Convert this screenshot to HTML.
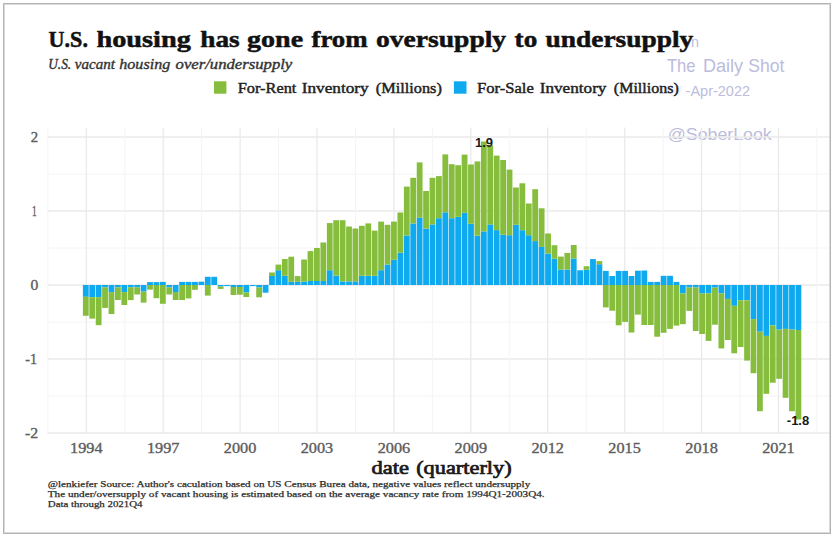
<!DOCTYPE html>
<html><head><meta charset="utf-8">
<style>
html,body{margin:0;padding:0;background:#fff;}
body{width:837px;height:537px;overflow:hidden;}
svg{display:block;}
text{font-family:"Liberation Serif",serif;}
.ax{font-size:14.6px;fill:#5c5c5c;stroke:#5c5c5c;stroke-width:0.35px;}
.wm{font-family:"Liberation Sans",sans-serif;fill:#bcbcdc;}
.lab{font-family:"Liberation Sans",sans-serif;font-weight:bold;font-size:13px;fill:#1a1a1a;}
.cap{font-size:9.2px;fill:#2a2a2a;stroke:#2a2a2a;stroke-width:0.25px;}
</style></head>
<body>
<svg width="837" height="537" viewBox="0 0 837 537">
<rect x="0" y="0" width="837" height="537" fill="#fff"/>
<!-- watermark -->
<text class="wm" x="691" y="46.9" font-size="14.3">n</text>
<text x="666.90" y="71.7" style="font-family:'Liberation Sans',sans-serif;font-size:18px;" textLength="28.77" lengthAdjust="spacingAndGlyphs" fill="#bcbcdc">The</text>
<text x="703.00" y="71.7" style="font-family:'Liberation Sans',sans-serif;font-size:18px;" textLength="40.16" lengthAdjust="spacingAndGlyphs" fill="#bcbcdc">Daily</text>
<text x="748.30" y="71.7" style="font-family:'Liberation Sans',sans-serif;font-size:18px;" textLength="36.14" lengthAdjust="spacingAndGlyphs" fill="#bcbcdc">Shot</text>
<text x="685.60" y="96.4" style="font-family:'Liberation Sans',sans-serif;font-size:15.2px;" textLength="64.43" lengthAdjust="spacingAndGlyphs" fill="#bcbcdc">-Apr-2022</text>
<text x="668.20" y="96.4" style="font-family:'Liberation Sans',sans-serif;font-size:15.2px;" textLength="15.33" lengthAdjust="spacingAndGlyphs" fill="#bcbcdc" fill-opacity="0.25">07</text>
<text x="667.80" y="140.3" style="font-family:'Liberation Sans',sans-serif;font-size:17.4px;" textLength="103.95" lengthAdjust="spacingAndGlyphs" fill="#bcbcdc">@SoberLook</text>
<!-- grid -->
<line x1="47.3" x2="829.0" y1="174.00" y2="174.00" stroke="#f4f4f4" stroke-width="1"/>
<line x1="47.3" x2="829.0" y1="248.00" y2="248.00" stroke="#f4f4f4" stroke-width="1"/>
<line x1="47.3" x2="829.0" y1="322.00" y2="322.00" stroke="#f4f4f4" stroke-width="1"/>
<line x1="47.3" x2="829.0" y1="396.00" y2="396.00" stroke="#f4f4f4" stroke-width="1"/>
<line x1="47.3" x2="829.0" y1="137.00" y2="137.00" stroke="#eaeaea" stroke-width="1.3"/>
<line x1="47.3" x2="829.0" y1="211.00" y2="211.00" stroke="#eaeaea" stroke-width="1.3"/>
<line x1="47.3" x2="829.0" y1="285.00" y2="285.00" stroke="#eaeaea" stroke-width="1.3"/>
<line x1="47.3" x2="829.0" y1="359.00" y2="359.00" stroke="#eaeaea" stroke-width="1.3"/>
<line x1="47.3" x2="829.0" y1="433.00" y2="433.00" stroke="#eaeaea" stroke-width="1.3"/>
<line x1="47.85" x2="47.85" y1="127.5" y2="433.5" stroke="#f4f4f4" stroke-width="1"/>
<line x1="124.75" x2="124.75" y1="127.5" y2="433.5" stroke="#f4f4f4" stroke-width="1"/>
<line x1="201.66" x2="201.66" y1="127.5" y2="433.5" stroke="#f4f4f4" stroke-width="1"/>
<line x1="278.56" x2="278.56" y1="127.5" y2="433.5" stroke="#f4f4f4" stroke-width="1"/>
<line x1="355.47" x2="355.47" y1="127.5" y2="433.5" stroke="#f4f4f4" stroke-width="1"/>
<line x1="432.37" x2="432.37" y1="127.5" y2="433.5" stroke="#f4f4f4" stroke-width="1"/>
<line x1="509.28" x2="509.28" y1="127.5" y2="433.5" stroke="#f4f4f4" stroke-width="1"/>
<line x1="586.18" x2="586.18" y1="127.5" y2="433.5" stroke="#f4f4f4" stroke-width="1"/>
<line x1="663.09" x2="663.09" y1="127.5" y2="433.5" stroke="#f4f4f4" stroke-width="1"/>
<line x1="739.99" x2="739.99" y1="127.5" y2="433.5" stroke="#f4f4f4" stroke-width="1"/>
<line x1="816.90" x2="816.90" y1="127.5" y2="433.5" stroke="#f4f4f4" stroke-width="1"/>
<line x1="86.30" x2="86.30" y1="127.5" y2="433.5" stroke="#eaeaea" stroke-width="1.3"/>
<line x1="163.20" x2="163.20" y1="127.5" y2="433.5" stroke="#eaeaea" stroke-width="1.3"/>
<line x1="240.11" x2="240.11" y1="127.5" y2="433.5" stroke="#eaeaea" stroke-width="1.3"/>
<line x1="317.01" x2="317.01" y1="127.5" y2="433.5" stroke="#eaeaea" stroke-width="1.3"/>
<line x1="393.92" x2="393.92" y1="127.5" y2="433.5" stroke="#eaeaea" stroke-width="1.3"/>
<line x1="470.83" x2="470.83" y1="127.5" y2="433.5" stroke="#eaeaea" stroke-width="1.3"/>
<line x1="547.73" x2="547.73" y1="127.5" y2="433.5" stroke="#eaeaea" stroke-width="1.3"/>
<line x1="624.63" x2="624.63" y1="127.5" y2="433.5" stroke="#eaeaea" stroke-width="1.3"/>
<line x1="701.54" x2="701.54" y1="127.5" y2="433.5" stroke="#eaeaea" stroke-width="1.3"/>
<line x1="778.45" x2="778.45" y1="127.5" y2="433.5" stroke="#eaeaea" stroke-width="1.3"/>
<!-- bars -->
<rect x="82.90" y="285.00" width="5.8" height="11.80" fill="#0fa9ef"/>
<rect x="82.90" y="296.80" width="5.8" height="19.00" fill="#86bd3c"/>
<rect x="89.32" y="285.00" width="5.8" height="12.20" fill="#0fa9ef"/>
<rect x="89.32" y="297.20" width="5.8" height="21.40" fill="#86bd3c"/>
<rect x="95.74" y="285.00" width="5.8" height="12.20" fill="#0fa9ef"/>
<rect x="95.74" y="297.20" width="5.8" height="28.00" fill="#86bd3c"/>
<rect x="102.16" y="285.00" width="5.8" height="2.40" fill="#0fa9ef"/>
<rect x="102.16" y="287.40" width="5.8" height="20.50" fill="#86bd3c"/>
<rect x="108.58" y="285.00" width="5.8" height="7.10" fill="#0fa9ef"/>
<rect x="108.58" y="292.10" width="5.8" height="21.90" fill="#86bd3c"/>
<rect x="115.00" y="285.00" width="5.8" height="2.40" fill="#0fa9ef"/>
<rect x="115.00" y="287.40" width="5.8" height="12.60" fill="#86bd3c"/>
<rect x="121.42" y="285.00" width="5.8" height="7.10" fill="#0fa9ef"/>
<rect x="121.42" y="292.10" width="5.8" height="12.90" fill="#86bd3c"/>
<rect x="127.84" y="285.00" width="5.8" height="2.30" fill="#0fa9ef"/>
<rect x="127.84" y="287.30" width="5.8" height="12.80" fill="#86bd3c"/>
<rect x="134.26" y="285.00" width="5.8" height="2.30" fill="#0fa9ef"/>
<rect x="134.26" y="287.30" width="5.8" height="7.20" fill="#86bd3c"/>
<rect x="140.68" y="285.00" width="5.8" height="6.60" fill="#0fa9ef"/>
<rect x="140.68" y="291.60" width="5.8" height="11.00" fill="#86bd3c"/>
<rect x="147.10" y="282.10" width="5.8" height="2.90" fill="#0fa9ef"/>
<rect x="147.10" y="285.00" width="5.8" height="4.60" fill="#86bd3c"/>
<rect x="153.52" y="282.10" width="5.8" height="2.90" fill="#0fa9ef"/>
<rect x="153.52" y="285.00" width="5.8" height="13.20" fill="#86bd3c"/>
<rect x="159.94" y="281.90" width="5.8" height="3.10" fill="#0fa9ef"/>
<rect x="159.94" y="285.00" width="5.8" height="18.80" fill="#86bd3c"/>
<rect x="166.36" y="285.00" width="5.8" height="2.50" fill="#0fa9ef"/>
<rect x="166.36" y="287.50" width="5.8" height="7.00" fill="#86bd3c"/>
<rect x="172.78" y="285.00" width="5.8" height="7.00" fill="#0fa9ef"/>
<rect x="172.78" y="292.00" width="5.8" height="8.00" fill="#86bd3c"/>
<rect x="179.20" y="281.90" width="5.8" height="3.10" fill="#0fa9ef"/>
<rect x="179.20" y="285.00" width="5.8" height="15.00" fill="#86bd3c"/>
<rect x="185.62" y="281.90" width="5.8" height="3.10" fill="#0fa9ef"/>
<rect x="185.62" y="285.00" width="5.8" height="13.40" fill="#86bd3c"/>
<rect x="192.04" y="281.90" width="5.8" height="3.10" fill="#0fa9ef"/>
<rect x="192.04" y="285.00" width="5.8" height="4.80" fill="#86bd3c"/>
<rect x="198.46" y="281.70" width="5.8" height="3.30" fill="#0fa9ef"/>
<rect x="204.88" y="276.80" width="5.8" height="8.20" fill="#0fa9ef"/>
<rect x="204.88" y="285.00" width="5.8" height="10.60" fill="#86bd3c"/>
<rect x="211.30" y="276.80" width="5.8" height="8.20" fill="#0fa9ef"/>
<rect x="217.72" y="285.00" width="5.8" height="1.50" fill="#0fa9ef"/>
<rect x="217.72" y="286.50" width="5.8" height="2.40" fill="#86bd3c"/>
<rect x="224.14" y="285.00" width="5.8" height="1.10" fill="#0fa9ef"/>
<rect x="230.56" y="285.00" width="5.8" height="2.00" fill="#0fa9ef"/>
<rect x="230.56" y="287.00" width="5.8" height="8.00" fill="#86bd3c"/>
<rect x="236.98" y="285.00" width="5.8" height="2.00" fill="#0fa9ef"/>
<rect x="236.98" y="287.00" width="5.8" height="7.70" fill="#86bd3c"/>
<rect x="243.40" y="285.00" width="5.8" height="7.50" fill="#0fa9ef"/>
<rect x="243.40" y="292.50" width="5.8" height="4.50" fill="#86bd3c"/>
<rect x="249.82" y="285.00" width="5.8" height="1.10" fill="#0fa9ef"/>
<rect x="256.24" y="285.00" width="5.8" height="2.50" fill="#0fa9ef"/>
<rect x="256.24" y="287.50" width="5.8" height="9.80" fill="#86bd3c"/>
<rect x="262.66" y="285.00" width="5.8" height="7.70" fill="#0fa9ef"/>
<rect x="269.08" y="276.00" width="5.8" height="9.00" fill="#0fa9ef"/>
<rect x="269.08" y="272.50" width="5.8" height="3.50" fill="#86bd3c"/>
<rect x="275.50" y="270.20" width="5.8" height="14.80" fill="#0fa9ef"/>
<rect x="275.50" y="264.60" width="5.8" height="5.60" fill="#86bd3c"/>
<rect x="281.92" y="275.80" width="5.8" height="9.20" fill="#0fa9ef"/>
<rect x="281.92" y="259.00" width="5.8" height="16.80" fill="#86bd3c"/>
<rect x="288.34" y="281.80" width="5.8" height="3.20" fill="#0fa9ef"/>
<rect x="288.34" y="256.70" width="5.8" height="25.10" fill="#86bd3c"/>
<rect x="294.76" y="281.80" width="5.8" height="3.20" fill="#0fa9ef"/>
<rect x="294.76" y="276.10" width="5.8" height="5.70" fill="#86bd3c"/>
<rect x="301.18" y="281.60" width="5.8" height="3.40" fill="#0fa9ef"/>
<rect x="301.18" y="259.50" width="5.8" height="22.10" fill="#86bd3c"/>
<rect x="307.60" y="281.00" width="5.8" height="4.00" fill="#0fa9ef"/>
<rect x="307.60" y="251.10" width="5.8" height="29.90" fill="#86bd3c"/>
<rect x="314.02" y="281.00" width="5.8" height="4.00" fill="#0fa9ef"/>
<rect x="314.02" y="248.00" width="5.8" height="33.00" fill="#86bd3c"/>
<rect x="320.44" y="281.00" width="5.8" height="4.00" fill="#0fa9ef"/>
<rect x="320.44" y="242.50" width="5.8" height="38.50" fill="#86bd3c"/>
<rect x="326.86" y="270.20" width="5.8" height="14.80" fill="#0fa9ef"/>
<rect x="326.86" y="223.10" width="5.8" height="47.10" fill="#86bd3c"/>
<rect x="333.28" y="275.60" width="5.8" height="9.40" fill="#0fa9ef"/>
<rect x="333.28" y="220.20" width="5.8" height="55.40" fill="#86bd3c"/>
<rect x="339.70" y="281.40" width="5.8" height="3.60" fill="#0fa9ef"/>
<rect x="339.70" y="220.20" width="5.8" height="61.20" fill="#86bd3c"/>
<rect x="346.12" y="281.40" width="5.8" height="3.60" fill="#0fa9ef"/>
<rect x="346.12" y="226.50" width="5.8" height="54.90" fill="#86bd3c"/>
<rect x="352.54" y="281.40" width="5.8" height="3.60" fill="#0fa9ef"/>
<rect x="352.54" y="228.50" width="5.8" height="52.90" fill="#86bd3c"/>
<rect x="358.96" y="275.80" width="5.8" height="9.20" fill="#0fa9ef"/>
<rect x="358.96" y="225.80" width="5.8" height="50.00" fill="#86bd3c"/>
<rect x="365.38" y="275.80" width="5.8" height="9.20" fill="#0fa9ef"/>
<rect x="365.38" y="223.40" width="5.8" height="52.40" fill="#86bd3c"/>
<rect x="371.80" y="275.80" width="5.8" height="9.20" fill="#0fa9ef"/>
<rect x="371.80" y="230.60" width="5.8" height="45.20" fill="#86bd3c"/>
<rect x="378.22" y="270.20" width="5.8" height="14.80" fill="#0fa9ef"/>
<rect x="378.22" y="221.60" width="5.8" height="48.60" fill="#86bd3c"/>
<rect x="384.64" y="264.60" width="5.8" height="20.40" fill="#0fa9ef"/>
<rect x="384.64" y="224.80" width="5.8" height="39.80" fill="#86bd3c"/>
<rect x="391.06" y="259.70" width="5.8" height="25.30" fill="#0fa9ef"/>
<rect x="391.06" y="221.60" width="5.8" height="38.10" fill="#86bd3c"/>
<rect x="397.48" y="252.70" width="5.8" height="32.30" fill="#0fa9ef"/>
<rect x="397.48" y="212.50" width="5.8" height="40.20" fill="#86bd3c"/>
<rect x="403.90" y="235.50" width="5.8" height="49.50" fill="#0fa9ef"/>
<rect x="403.90" y="186.60" width="5.8" height="48.90" fill="#86bd3c"/>
<rect x="410.32" y="223.50" width="5.8" height="61.50" fill="#0fa9ef"/>
<rect x="410.32" y="177.80" width="5.8" height="45.70" fill="#86bd3c"/>
<rect x="416.74" y="217.80" width="5.8" height="67.20" fill="#0fa9ef"/>
<rect x="416.74" y="162.40" width="5.8" height="55.40" fill="#86bd3c"/>
<rect x="423.16" y="228.60" width="5.8" height="56.40" fill="#0fa9ef"/>
<rect x="423.16" y="191.00" width="5.8" height="37.60" fill="#86bd3c"/>
<rect x="429.58" y="224.40" width="5.8" height="60.60" fill="#0fa9ef"/>
<rect x="429.58" y="177.80" width="5.8" height="46.60" fill="#86bd3c"/>
<rect x="436.00" y="218.20" width="5.8" height="66.80" fill="#0fa9ef"/>
<rect x="436.00" y="176.10" width="5.8" height="42.10" fill="#86bd3c"/>
<rect x="442.42" y="212.30" width="5.8" height="72.70" fill="#0fa9ef"/>
<rect x="442.42" y="154.40" width="5.8" height="57.90" fill="#86bd3c"/>
<rect x="448.84" y="218.20" width="5.8" height="66.80" fill="#0fa9ef"/>
<rect x="448.84" y="164.20" width="5.8" height="54.00" fill="#86bd3c"/>
<rect x="455.26" y="216.80" width="5.8" height="68.20" fill="#0fa9ef"/>
<rect x="455.26" y="165.20" width="5.8" height="51.60" fill="#86bd3c"/>
<rect x="461.68" y="212.80" width="5.8" height="72.20" fill="#0fa9ef"/>
<rect x="461.68" y="154.60" width="5.8" height="58.20" fill="#86bd3c"/>
<rect x="468.10" y="223.70" width="5.8" height="61.30" fill="#0fa9ef"/>
<rect x="468.10" y="164.50" width="5.8" height="59.20" fill="#86bd3c"/>
<rect x="474.52" y="235.60" width="5.8" height="49.40" fill="#0fa9ef"/>
<rect x="474.52" y="161.40" width="5.8" height="74.20" fill="#86bd3c"/>
<rect x="480.94" y="231.40" width="5.8" height="53.60" fill="#0fa9ef"/>
<rect x="480.94" y="141.50" width="5.8" height="89.90" fill="#86bd3c"/>
<rect x="487.36" y="224.40" width="5.8" height="60.60" fill="#0fa9ef"/>
<rect x="487.36" y="145.50" width="5.8" height="78.90" fill="#86bd3c"/>
<rect x="493.78" y="230.10" width="5.8" height="54.90" fill="#0fa9ef"/>
<rect x="493.78" y="155.60" width="5.8" height="74.50" fill="#86bd3c"/>
<rect x="500.20" y="234.70" width="5.8" height="50.30" fill="#0fa9ef"/>
<rect x="500.20" y="160.00" width="5.8" height="74.70" fill="#86bd3c"/>
<rect x="506.62" y="235.20" width="5.8" height="49.80" fill="#0fa9ef"/>
<rect x="506.62" y="169.60" width="5.8" height="65.60" fill="#86bd3c"/>
<rect x="513.04" y="224.80" width="5.8" height="60.20" fill="#0fa9ef"/>
<rect x="513.04" y="187.50" width="5.8" height="37.30" fill="#86bd3c"/>
<rect x="519.46" y="230.20" width="5.8" height="54.80" fill="#0fa9ef"/>
<rect x="519.46" y="183.30" width="5.8" height="46.90" fill="#86bd3c"/>
<rect x="525.88" y="235.20" width="5.8" height="49.80" fill="#0fa9ef"/>
<rect x="525.88" y="203.50" width="5.8" height="31.70" fill="#86bd3c"/>
<rect x="532.30" y="241.10" width="5.8" height="43.90" fill="#0fa9ef"/>
<rect x="532.30" y="189.20" width="5.8" height="51.90" fill="#86bd3c"/>
<rect x="538.72" y="246.90" width="5.8" height="38.10" fill="#0fa9ef"/>
<rect x="538.72" y="208.30" width="5.8" height="38.60" fill="#86bd3c"/>
<rect x="545.14" y="253.60" width="5.8" height="31.40" fill="#0fa9ef"/>
<rect x="545.14" y="233.50" width="5.8" height="20.10" fill="#86bd3c"/>
<rect x="551.56" y="258.70" width="5.8" height="26.30" fill="#0fa9ef"/>
<rect x="551.56" y="245.20" width="5.8" height="13.50" fill="#86bd3c"/>
<rect x="557.98" y="269.50" width="5.8" height="15.50" fill="#0fa9ef"/>
<rect x="557.98" y="256.60" width="5.8" height="12.90" fill="#86bd3c"/>
<rect x="564.40" y="269.60" width="5.8" height="15.40" fill="#0fa9ef"/>
<rect x="564.40" y="252.90" width="5.8" height="16.70" fill="#86bd3c"/>
<rect x="570.82" y="258.50" width="5.8" height="26.50" fill="#0fa9ef"/>
<rect x="570.82" y="245.00" width="5.8" height="13.50" fill="#86bd3c"/>
<rect x="577.24" y="270.30" width="5.8" height="14.70" fill="#0fa9ef"/>
<rect x="583.66" y="269.80" width="5.8" height="15.20" fill="#0fa9ef"/>
<rect x="583.66" y="266.20" width="5.8" height="3.60" fill="#86bd3c"/>
<rect x="590.08" y="259.10" width="5.8" height="25.90" fill="#0fa9ef"/>
<rect x="596.50" y="264.20" width="5.8" height="20.80" fill="#0fa9ef"/>
<rect x="596.50" y="261.10" width="5.8" height="3.10" fill="#86bd3c"/>
<rect x="602.92" y="270.90" width="5.8" height="14.10" fill="#0fa9ef"/>
<rect x="602.92" y="285.00" width="5.8" height="22.40" fill="#86bd3c"/>
<rect x="609.34" y="276.00" width="5.8" height="9.00" fill="#0fa9ef"/>
<rect x="609.34" y="285.00" width="5.8" height="25.70" fill="#86bd3c"/>
<rect x="615.76" y="270.90" width="5.8" height="14.10" fill="#0fa9ef"/>
<rect x="615.76" y="285.00" width="5.8" height="40.30" fill="#86bd3c"/>
<rect x="622.18" y="270.90" width="5.8" height="14.10" fill="#0fa9ef"/>
<rect x="622.18" y="285.00" width="5.8" height="36.90" fill="#86bd3c"/>
<rect x="628.60" y="276.00" width="5.8" height="9.00" fill="#0fa9ef"/>
<rect x="628.60" y="285.00" width="5.8" height="47.50" fill="#86bd3c"/>
<rect x="635.02" y="270.70" width="5.8" height="14.30" fill="#0fa9ef"/>
<rect x="635.02" y="285.00" width="5.8" height="29.60" fill="#86bd3c"/>
<rect x="641.44" y="270.50" width="5.8" height="14.50" fill="#0fa9ef"/>
<rect x="641.44" y="285.00" width="5.8" height="40.00" fill="#86bd3c"/>
<rect x="647.86" y="281.90" width="5.8" height="3.10" fill="#0fa9ef"/>
<rect x="647.86" y="285.00" width="5.8" height="40.00" fill="#86bd3c"/>
<rect x="654.28" y="281.90" width="5.8" height="3.10" fill="#0fa9ef"/>
<rect x="654.28" y="285.00" width="5.8" height="51.70" fill="#86bd3c"/>
<rect x="660.70" y="275.80" width="5.8" height="9.20" fill="#0fa9ef"/>
<rect x="660.70" y="285.00" width="5.8" height="47.80" fill="#86bd3c"/>
<rect x="667.12" y="275.80" width="5.8" height="9.20" fill="#0fa9ef"/>
<rect x="667.12" y="285.00" width="5.8" height="43.90" fill="#86bd3c"/>
<rect x="673.54" y="281.90" width="5.8" height="3.10" fill="#0fa9ef"/>
<rect x="673.54" y="285.00" width="5.8" height="40.60" fill="#86bd3c"/>
<rect x="679.96" y="285.00" width="5.8" height="8.50" fill="#0fa9ef"/>
<rect x="679.96" y="293.50" width="5.8" height="30.70" fill="#86bd3c"/>
<rect x="686.38" y="285.00" width="5.8" height="2.50" fill="#0fa9ef"/>
<rect x="686.38" y="287.50" width="5.8" height="23.40" fill="#86bd3c"/>
<rect x="692.80" y="285.00" width="5.8" height="2.40" fill="#0fa9ef"/>
<rect x="692.80" y="287.40" width="5.8" height="43.60" fill="#86bd3c"/>
<rect x="699.22" y="285.00" width="5.8" height="8.50" fill="#0fa9ef"/>
<rect x="699.22" y="293.50" width="5.8" height="40.50" fill="#86bd3c"/>
<rect x="705.64" y="285.00" width="5.8" height="8.30" fill="#0fa9ef"/>
<rect x="705.64" y="293.30" width="5.8" height="47.60" fill="#86bd3c"/>
<rect x="712.06" y="285.00" width="5.8" height="2.60" fill="#0fa9ef"/>
<rect x="712.06" y="287.60" width="5.8" height="37.10" fill="#86bd3c"/>
<rect x="718.48" y="285.00" width="5.8" height="8.30" fill="#0fa9ef"/>
<rect x="718.48" y="293.30" width="5.8" height="55.10" fill="#86bd3c"/>
<rect x="724.90" y="285.00" width="5.8" height="13.90" fill="#0fa9ef"/>
<rect x="724.90" y="298.90" width="5.8" height="41.10" fill="#86bd3c"/>
<rect x="731.32" y="285.00" width="5.8" height="20.80" fill="#0fa9ef"/>
<rect x="731.32" y="305.80" width="5.8" height="47.50" fill="#86bd3c"/>
<rect x="737.74" y="285.00" width="5.8" height="15.30" fill="#0fa9ef"/>
<rect x="737.74" y="300.30" width="5.8" height="46.70" fill="#86bd3c"/>
<rect x="744.16" y="285.00" width="5.8" height="15.30" fill="#0fa9ef"/>
<rect x="744.16" y="300.30" width="5.8" height="60.30" fill="#86bd3c"/>
<rect x="750.58" y="285.00" width="5.8" height="34.10" fill="#0fa9ef"/>
<rect x="750.58" y="319.10" width="5.8" height="54.10" fill="#86bd3c"/>
<rect x="757.00" y="285.00" width="5.8" height="46.70" fill="#0fa9ef"/>
<rect x="757.00" y="331.70" width="5.8" height="79.50" fill="#86bd3c"/>
<rect x="763.42" y="285.00" width="5.8" height="50.90" fill="#0fa9ef"/>
<rect x="763.42" y="335.90" width="5.8" height="57.90" fill="#86bd3c"/>
<rect x="769.84" y="285.00" width="5.8" height="40.40" fill="#0fa9ef"/>
<rect x="769.84" y="325.40" width="5.8" height="57.30" fill="#86bd3c"/>
<rect x="776.26" y="285.00" width="5.8" height="44.60" fill="#0fa9ef"/>
<rect x="776.26" y="329.60" width="5.8" height="49.20" fill="#86bd3c"/>
<rect x="782.68" y="285.00" width="5.8" height="43.90" fill="#0fa9ef"/>
<rect x="782.68" y="328.90" width="5.8" height="68.90" fill="#86bd3c"/>
<rect x="789.10" y="285.00" width="5.8" height="44.60" fill="#0fa9ef"/>
<rect x="789.10" y="329.60" width="5.8" height="81.60" fill="#86bd3c"/>
<rect x="795.52" y="285.00" width="5.8" height="45.00" fill="#0fa9ef"/>
<rect x="795.52" y="330.00" width="5.8" height="89.50" fill="#86bd3c"/>
<!-- title -->
<text x="48.60" y="46.6" style="font-family:'Liberation Serif',serif;font-size:23.6px;font-weight:bold;" textLength="39.36" lengthAdjust="spacingAndGlyphs" fill="#111" stroke="#111" stroke-width="0.5">U.S.</text>
<text x="96.40" y="46.6" style="font-family:'Liberation Serif',serif;font-size:23.6px;font-weight:bold;" textLength="94.41" lengthAdjust="spacingAndGlyphs" fill="#111" stroke="#111" stroke-width="0.5">housing</text>
<text x="200.30" y="46.6" style="font-family:'Liberation Serif',serif;font-size:23.6px;font-weight:bold;" textLength="39.41" lengthAdjust="spacingAndGlyphs" fill="#111" stroke="#111" stroke-width="0.5">has</text>
<text x="247.00" y="46.6" style="font-family:'Liberation Serif',serif;font-size:23.6px;font-weight:bold;" textLength="56.10" lengthAdjust="spacingAndGlyphs" fill="#111" stroke="#111" stroke-width="0.5">gone</text>
<text x="311.50" y="46.6" style="font-family:'Liberation Serif',serif;font-size:23.6px;font-weight:bold;" textLength="56.15" lengthAdjust="spacingAndGlyphs" fill="#111" stroke="#111" stroke-width="0.5">from</text>
<text x="376.00" y="46.6" style="font-family:'Liberation Serif',serif;font-size:23.6px;font-weight:bold;" textLength="130.15" lengthAdjust="spacingAndGlyphs" fill="#111" stroke="#111" stroke-width="0.5">oversupply</text>
<text x="514.60" y="46.6" style="font-family:'Liberation Serif',serif;font-size:23.6px;font-weight:bold;" textLength="22.65" lengthAdjust="spacingAndGlyphs" fill="#111" stroke="#111" stroke-width="0.5">to</text>
<text x="545.60" y="46.6" style="font-family:'Liberation Serif',serif;font-size:23.6px;font-weight:bold;" textLength="147.64" lengthAdjust="spacingAndGlyphs" fill="#111" stroke="#111" stroke-width="0.5">undersupply</text>
<text x="48.30" y="68.9" style="font-family:'Liberation Serif',serif;font-size:15.2px;font-style:italic;" textLength="22.83" lengthAdjust="spacingAndGlyphs" fill="#333" stroke="#333" stroke-width="0.4">U.S.</text>
<text x="74.80" y="68.9" style="font-family:'Liberation Serif',serif;font-size:15.2px;font-style:italic;" textLength="40.13" lengthAdjust="spacingAndGlyphs" fill="#333" stroke="#333" stroke-width="0.4">vacant</text>
<text x="119.30" y="68.9" style="font-family:'Liberation Serif',serif;font-size:15.2px;font-style:italic;" textLength="50.93" lengthAdjust="spacingAndGlyphs" fill="#333" stroke="#333" stroke-width="0.4">housing</text>
<text x="175.60" y="68.9" style="font-family:'Liberation Serif',serif;font-size:15.2px;font-style:italic;" textLength="116.67" lengthAdjust="spacingAndGlyphs" fill="#333" stroke="#333" stroke-width="0.4">over/undersupply</text>
<!-- legend -->
<rect x="214" y="81.3" width="12.4" height="12.4" fill="#86bd3c"/>
<text x="237.70" y="92.9" style="font-family:'Liberation Serif',serif;font-size:15px;" textLength="58.72" lengthAdjust="spacingAndGlyphs" fill="#222" stroke="#222" stroke-width="0.45">For-Rent</text>
<text x="301.70" y="92.9" style="font-family:'Liberation Serif',serif;font-size:15px;" textLength="67.06" lengthAdjust="spacingAndGlyphs" fill="#222" stroke="#222" stroke-width="0.45">Inventory</text>
<text x="375.80" y="92.9" style="font-family:'Liberation Serif',serif;font-size:15px;" textLength="66.01" lengthAdjust="spacingAndGlyphs" fill="#222" stroke="#222" stroke-width="0.45">(Millions)</text>
<text x="477.00" y="92.9" style="font-family:'Liberation Serif',serif;font-size:15px;" textLength="56.78" lengthAdjust="spacingAndGlyphs" fill="#222" stroke="#222" stroke-width="0.45">For-Sale</text>
<text x="539.70" y="92.9" style="font-family:'Liberation Serif',serif;font-size:15px;" textLength="66.76" lengthAdjust="spacingAndGlyphs" fill="#222" stroke="#222" stroke-width="0.45">Inventory</text>
<text x="613.80" y="92.9" style="font-family:'Liberation Serif',serif;font-size:15px;" textLength="65.01" lengthAdjust="spacingAndGlyphs" fill="#222" stroke="#222" stroke-width="0.45">(Millions)</text>
<rect x="453.9" y="81.3" width="12.6" height="12.4" fill="#0fa9ef"/>
<!-- axes labels -->
<text x="30.80" y="142.2" style="font-family:'Liberation Serif',serif;font-size:14.6px;" textLength="7.40" lengthAdjust="spacingAndGlyphs" class="ax">2</text>
<text x="32.10" y="216.2" style="font-family:'Liberation Serif',serif;font-size:14.6px;" textLength="4.70" lengthAdjust="spacingAndGlyphs" class="ax">1</text>
<text x="30.60" y="290.2" style="font-family:'Liberation Serif',serif;font-size:14.6px;" textLength="7.80" lengthAdjust="spacingAndGlyphs" class="ax">0</text>
<text x="25.20" y="364.2" style="font-family:'Liberation Serif',serif;font-size:14.6px;" textLength="11.77" lengthAdjust="spacingAndGlyphs" class="ax">-1</text>
<text x="25.00" y="438.2" style="font-family:'Liberation Serif',serif;font-size:14.6px;" textLength="13.17" lengthAdjust="spacingAndGlyphs" class="ax">-2</text>
<text x="86.30" y="453.2" text-anchor="middle" class="ax" textLength="32.5" lengthAdjust="spacingAndGlyphs">1994</text>
<text x="163.20" y="453.2" text-anchor="middle" class="ax" textLength="32.5" lengthAdjust="spacingAndGlyphs">1997</text>
<text x="240.11" y="453.2" text-anchor="middle" class="ax" textLength="32.5" lengthAdjust="spacingAndGlyphs">2000</text>
<text x="317.01" y="453.2" text-anchor="middle" class="ax" textLength="32.5" lengthAdjust="spacingAndGlyphs">2003</text>
<text x="393.92" y="453.2" text-anchor="middle" class="ax" textLength="32.5" lengthAdjust="spacingAndGlyphs">2006</text>
<text x="470.83" y="453.2" text-anchor="middle" class="ax" textLength="32.5" lengthAdjust="spacingAndGlyphs">2009</text>
<text x="547.73" y="453.2" text-anchor="middle" class="ax" textLength="32.5" lengthAdjust="spacingAndGlyphs">2012</text>
<text x="624.63" y="453.2" text-anchor="middle" class="ax" textLength="32.5" lengthAdjust="spacingAndGlyphs">2015</text>
<text x="701.54" y="453.2" text-anchor="middle" class="ax" textLength="32.5" lengthAdjust="spacingAndGlyphs">2018</text>
<text x="778.45" y="453.2" text-anchor="middle" class="ax" textLength="32.5" lengthAdjust="spacingAndGlyphs">2021</text>
<text x="371.50" y="474" style="font-family:'Liberation Serif',serif;font-size:18px;" textLength="37.51" lengthAdjust="spacingAndGlyphs" fill="#1a1a1a" stroke="#1a1a1a" stroke-width="0.7">date</text>
<text x="416.20" y="474" style="font-family:'Liberation Serif',serif;font-size:18px;" textLength="95.51" lengthAdjust="spacingAndGlyphs" fill="#1a1a1a" stroke="#1a1a1a" stroke-width="0.7">(quarterly)</text>
<!-- value labels -->
<text class="lab" x="484" y="146.6" text-anchor="middle">1.9</text>
<text class="lab" x="798" y="424.8" text-anchor="middle">-1.8</text>
<!-- caption -->
<text class="cap" x="47.8" y="487" textLength="482.4" lengthAdjust="spacingAndGlyphs">@lenkiefer Source: Author's caculation based on US Census Burea data, negative values reflect undersupply</text>
<text class="cap" x="47.8" y="496.9" textLength="496.8" lengthAdjust="spacingAndGlyphs">The under/oversupply of vacant housing is estimated based on the average vacancy rate from 1994Q1-2003Q4.</text>
<text class="cap" x="47.8" y="506.7" textLength="94.7" lengthAdjust="spacingAndGlyphs">Data through 2021Q4</text>
<!-- border -->
<rect x="3.5" y="3.5" width="827" height="530" fill="none" stroke="#b4b4b4" stroke-width="1"/>
<rect x="4.5" y="4.5" width="825" height="528" fill="none" stroke="#dadada" stroke-width="1"/>
</svg>
</body></html>
